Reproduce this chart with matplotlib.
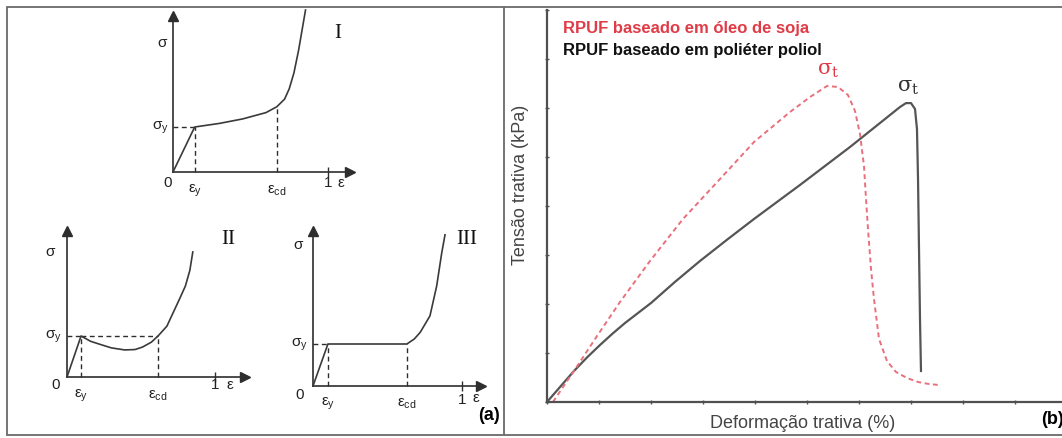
import matplotlib
matplotlib.use("Agg")
import matplotlib.pyplot as plt
from matplotlib.patches import Rectangle
from matplotlib.lines import Line2D

W, H = 1062, 439
plt.rcParams["font.family"] = ["Liberation Sans", "DejaVu Sans"]
plt.rcParams["mathtext.fontset"] = "custom"
plt.rcParams["mathtext.rm"] = "Liberation Sans"
plt.rcParams["mathtext.it"] = "Liberation Sans"
plt.rcParams["mathtext.bf"] = "Liberation Sans:bold"

# ---- (a) idealised compressive stress-strain curves (strain, stress/sigma_y) ----
eps_I = [0, 0.14, 0.30, 0.45, 0.60, 0.67, 0.72, 0.75, 0.78, 0.81, 0.84, 0.855]
sig_I = [0, 1.00, 1.08, 1.18, 1.32, 1.45, 1.62, 1.85, 2.20, 2.70, 3.30, 3.60]
marks_I = {"eps_y": 0.14, "eps_cd": 0.67, "sig_cd": 1.45, "dip": False}

eps_II = [0, 0.095, 0.16, 0.22, 0.30, 0.39, 0.46, 0.51, 0.57, 0.615, 0.675, 0.72, 0.76, 0.80, 0.83, 0.85]
sig_II = [0, 1.00, 0.87, 0.80, 0.71, 0.66, 0.67, 0.73, 0.85, 1.00, 1.24, 1.59, 1.90, 2.22, 2.60, 3.05]
marks_II = {"eps_y": 0.095, "eps_cd": 0.615, "sig_cd": 1.0, "dip": True}

eps_III = [0, 0.10, 0.63, 0.68, 0.72, 0.785, 0.83, 0.864, 0.886]
sig_III = [0, 1.00, 1.00, 1.12, 1.28, 1.67, 2.38, 3.17, 3.60]
marks_III = {"eps_y": 0.10, "eps_cd": 0.63, "sig_cd": 1.0, "dip": False}

# ---- (b) tensile curves of the two rigid foams ----
strain_soy = [0.115, 0.308, 0.519, 0.962, 1.404, 1.981, 2.615, 3.327, 3.981, 4.673, 5.058,
              5.385, 5.596, 5.788, 5.923, 6.019, 6.096, 6.135, 6.173, 6.231, 6.288, 6.385,
              6.538, 6.712, 6.923, 7.135, 7.346, 7.538]
stress_soy = [0.0, 0.306, 0.633, 1.347, 2.041, 2.878, 3.735, 4.551, 5.306, 5.918, 6.224,
              6.449, 6.429, 6.265, 5.939, 5.469, 4.816, 4.143, 3.531, 2.714, 2.102, 1.286,
              0.837, 0.612, 0.490, 0.408, 0.367, 0.347]
strain_pol = [0.0, 0.25, 0.519, 0.77, 1.019, 1.26, 1.50, 2.0, 2.46, 2.942, 3.46, 3.981, 4.865,
              5.827, 6.788, 6.904, 7.0, 7.077, 7.115, 7.135, 7.154, 7.173, 7.192]
stress_pol = [0.0, 0.306, 0.633, 0.91, 1.163, 1.395, 1.612, 2.02, 2.45, 2.878, 3.31, 3.735, 4.429,
              5.204, 6.02, 6.10, 6.10, 5.98, 5.571, 4.551, 3.122, 1.694, 0.633]
label_soy = "RPUF baseado em óleo de soja"
label_pol = "RPUF baseado em poliéter poliol"

fig = plt.figure(figsize=(W / 100, H / 100), dpi=100)
fig.patch.set_facecolor("white")


def place(ox, oy, sx, sy, xlim, ylim):
    left = (ox + xlim[0] * sx) / W
    bottom = (H - oy + ylim[0] * sy) / H
    width = (xlim[1] - xlim[0]) * sx / W
    height = (ylim[1] - ylim[0]) * sy / H
    ax = fig.add_axes([left, bottom, width, height])
    ax.set_xlim(*xlim)
    ax.set_ylim(*ylim)
    return ax


AX = "#2e2e2e"
CURVE = "#3a3a3a"


def schematic(ax, eps, sig, marks, xmax, ymax, numeral, lab):
    ax.axis("off")
    ax.plot([0, xmax], [0, 0], color=AX, lw=1.2, clip_on=False)
    ax.plot([0, 0], [0, ymax], color=AX, lw=1.2, clip_on=False)
    ax.plot([xmax], [0], marker=">", ms=7, color=AX, clip_on=False)
    ax.plot([0], [ymax], marker="^", ms=7, color=AX, clip_on=False)
    ax.plot([1], [0], marker="|", ms=7, mew=1, color=AX, clip_on=False)
    ey, ecd, scd = marks["eps_y"], marks["eps_cd"], marks["sig_cd"]
    dash = dict(color=AX, lw=1.0, ls=(0, (3.5, 2.5)), clip_on=False)
    ax.plot([0, ey], [1, 1], **dash)
    ax.plot([ey, ey], [0, 1], **dash)
    ax.plot([ecd, ecd], [0, scd], **dash)
    if marks["dip"]:
        ax.plot([ey, ecd], [1, 1], **dash)
    ax.plot(eps, sig, color=CURVE, lw=1.2, clip_on=False)
    fs = 11
    ax.text(lab["sig"][0], lab["sig"][1], "σ", fontsize=fs, ha="center", va="center", color="#222")
    ax.text(lab["sigy"][0], 1.0, r"$σ_{y}$", fontsize=fs, ha="right", va="center", color="#222")
    ax.text(lab["zero"][0], lab["zero"][1], "0", fontsize=fs, ha="center", va="center", color="#222")
    ax.text(ey, lab["ey"], r"$ε_{y}$", fontsize=fs, ha="center", va="center", color="#222")
    ax.text(ecd, lab["ey"], r"$ε_{cd}$", fontsize=fs, ha="center", va="center", color="#222")
    ax.text(1.0, lab["one"], "1", fontsize=fs, ha="center", va="center", color="#222")
    ax.text(lab["eps"][0], lab["eps"][1], "ε", fontsize=fs, ha="center", va="center", color="#222")
    ax.text(lab["num"][0], lab["num"][1], numeral, fontsize=15, ha="center", va="center",
            family="Liberation Serif", color="#111")


axI = place(173, 173, 155, 45, (0, 1.14), (0, 3.47))
schematic(axI, eps_I, sig_I, marks_I, 1.14, 3.47, "I",
          {"sig": (-0.07, 2.89), "sigy": (-0.03,), "zero": (-0.035, -0.22), "ey": -0.40,
           "one": -0.22, "eps": (1.085, -0.22), "num": (1.06, 3.11)})

axII = place(67, 378, 148, 41, (0, 1.20), (0, 3.56))
schematic(axII, eps_II, sig_II, marks_II, 1.20, 3.56, "II",
          {"sig": (-0.115, 3.07), "sigy": (-0.034,), "zero": (-0.074, -0.17), "ey": -0.43,
           "one": -0.17, "eps": (1.10, -0.17), "num": (1.09, 3.37)})

axIII = place(313, 387, 149, 42, (0, 1.13), (0, 3.69))
schematic(axIII, eps_III, sig_III, marks_III, 1.13, 3.69, "III",
          {"sig": (-0.10, 3.38), "sigy": (-0.034,), "zero": (-0.087, -0.19), "ey": -0.40,
           "one": -0.30, "eps": (1.09, -0.27), "num": (1.03, 3.5)})

# ---- (b) tensile test panel ----
axb = place(547, 403, 52, 49, (0, 10), (0, 8))
for s in ("top", "right"):
    axb.spines[s].set_visible(False)
for s in ("left", "bottom"):
    axb.spines[s].set_color("#505050")
    axb.spines[s].set_linewidth(1.6)
axb.set_xticks(range(0, 11))
axb.set_yticks(range(0, 9))
axb.tick_params(direction="inout", length=3, width=1, color="#505050",
                labelleft=False, labelbottom=False)
axb.patch.set_alpha(0)

axb.plot(strain_pol, stress_pol, color="#555555", lw=1.6, clip_on=False)
axb.plot(strain_soy, stress_soy, color="#e8707c", lw=1.4, ls=(0, (2.5, 1.8)), clip_on=False)

axb.text(0.31, 7.65, label_soy, color="#e03c48", fontsize=12, fontweight="bold", va="center")
axb.text(0.31, 7.20, label_pol, color="#111111", fontsize=12, fontweight="bold", va="center")
axb.text(5.40, 6.78, r"$\mathrm{σ_t}$", color="#e03c48", fontsize=15, ha="center", va="center",
         math_fontfamily="dejavuserif")
axb.text(6.94, 6.43, r"$\mathrm{σ_t}$", color="#333333", fontsize=15, ha="center", va="center",
         math_fontfamily="dejavuserif")

axb.set_ylabel("Tensão trativa (kPa)", fontsize=13, color="#444444")
axb.yaxis.set_label_coords(-0.035, 0.556)
axb.set_xlabel("Deformação trativa (%)", fontsize=13, color="#444444")
axb.xaxis.set_label_coords(0.492, -0.030)

# ---- panel frames and tags ----
frame = "#6a6a6a"
fig.add_artist(Rectangle((7 / W, 1 - 436 / H), (504 - 7) / W, (436 - 8) / H,
                         transform=fig.transFigure, fill=False, ec=frame, lw=1.3))
fig.add_artist(Line2D([505 / W, 1], [1 - 8 / H, 1 - 8 / H], transform=fig.transFigure,
                      color=frame, lw=1.3))
fig.add_artist(Line2D([505 / W, 1], [1 - 436 / H, 1 - 436 / H], transform=fig.transFigure,
                      color=frame, lw=1.3))

fig.text(489 / W, 1 - 415 / H, "(a)", fontsize=13, fontweight="bold", ha="center", va="center")
fig.text(1041 / W, 1 - 420 / H, "(b)", fontsize=13, fontweight="bold", ha="left", va="center")

fig.savefig("out.png", dpi=100)
